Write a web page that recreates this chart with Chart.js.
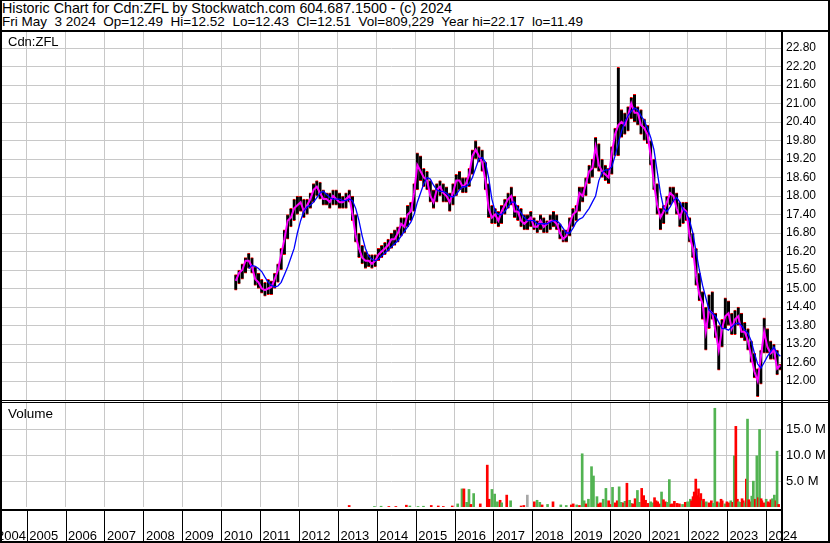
<!DOCTYPE html>
<html>
<head>
<meta charset="utf-8">
<title>Historic Chart for Cdn:ZFL</title>
<script src="https://cdn.jsdelivr.net/npm/chart.js@4.4.0/dist/chart.umd.min.js"></script>
<style>
  body { margin: 0; background: #fff; }
  #page { position: relative; width: 830px; height: 543px; overflow: hidden; font-family: "Liberation Sans", Arial, sans-serif; color: #000; }
  .txt { position: absolute; white-space: pre; line-height: 14px; }
  .ln { position: absolute; background: #000; }
  canvas { position: absolute; left: 0; }
</style>
</head>
<body>
<div id="page">
  <canvas id="priceChart" width="830" height="368" style="top:32px"></canvas>
  <canvas id="volChart" width="830" height="140" style="top:403px"></canvas>

  <div class="txt" style="left:2px;top:1px;font-size:14.3px">Historic Chart for Cdn:ZFL by Stockwatch.com 604.687.1500 - (c) 2024</div>
  <div class="txt" style="left:2px;top:15px;font-size:13.5px">Fri May  3 2024  Op=12.49  Hi=12.52  Lo=12.43  Cl=12.51  Vol=809,229  Year hi=22.17  lo=11.49</div>
  <div class="txt" style="left:8px;top:35px;font-size:13px">Cdn:ZFL</div>
  <div class="txt" style="left:8px;top:407px;font-size:13.5px">Volume</div>

  <!-- frame -->
  <div class="ln" style="left:0;top:0;width:830px;height:1px"></div>
  <div class="ln" style="left:0;top:0;width:2px;height:543px"></div>
  <div class="ln" style="left:828px;top:0;width:2px;height:543px"></div>
  <div class="ln" style="left:0;top:541px;width:830px;height:2px"></div>
  <div class="ln" style="left:0;top:30px;width:830px;height:2px"></div>
  <div class="ln" style="left:781px;top:30px;width:2px;height:513px"></div>
  <div class="ln" style="left:0;top:400px;width:830px;height:1px"></div>
  <div class="ln" style="left:0;top:402px;width:830px;height:1px"></div>
  <div class="ln" style="left:0;top:509px;width:783px;height:2px"></div>
</div>

<script>
// monthly bars, first one is May 2010
const startYear = 2010, startMonth = 5;

const hi = [
  15.45, 15.6, 15.8, 16.0, 16.15, 16.0, 15.7, 15.5,
  15.3, 15.2, 15.3, 15.25, 15.5, 15.8, 16.3, 16.9, 17.4, 17.6, 17.9, 18.0,
  18.0, 17.9, 17.9, 18.1, 18.4, 18.5, 18.45, 18.2, 18.1, 18.1, 18.2, 18.2,
  18.1, 18.0, 18.1, 18.2, 18.0, 17.4, 16.8, 16.4, 16.2, 16.1, 16.1, 16.1,
  16.3, 16.4, 16.5, 16.6, 16.8, 16.9, 17.0, 17.3, 17.3, 17.7, 17.8, 18.4,
  19.4, 19.3, 18.9, 18.8, 18.5, 18.2, 18.4, 18.5, 18.4, 18.3, 18.1, 18.4,
  18.7, 18.8, 18.6, 18.6, 18.9, 19.5, 19.8, 19.6, 19.5, 19.1, 18.4, 17.7,
  17.6, 17.5, 17.7, 17.9, 18.1, 18.3, 18.0, 17.7, 17.6, 17.4, 17.4, 17.5,
  17.3, 17.2, 17.4, 17.3, 17.2, 17.4, 17.5, 17.4, 17.1, 16.9, 16.9, 17.3,
  17.6, 17.7, 18.3, 18.3, 18.6, 19.0, 19.2, 19.9, 19.7, 19.2, 19.0, 18.9,
  19.6, 20.2, 22.17, 20.8, 20.7, 20.9, 21.2, 21.3, 20.9, 20.8, 20.5, 20.3,
  19.8, 19.2, 18.4, 17.6, 17.7, 18.0, 18.3, 18.3, 18.1, 17.8, 17.8, 17.8,
  17.3, 16.8, 16.3, 15.5, 14.9, 14.4, 14.8, 14.9, 14.2, 13.8, 14.0, 14.7,
  14.6, 14.2, 14.3, 14.4, 14.2, 13.9, 13.7, 13.3, 12.9, 12.4, 13.0, 14.05,
  13.7, 13.3, 13.2, 13.0, 12.55
];
const lo = [
  14.95, 15.15, 15.3, 15.5, 15.65, 15.5, 15.1, 15.0,
  14.85, 14.75, 14.8, 14.8, 15.0, 15.2, 15.6, 16.1, 16.6, 17.0, 17.2, 17.4,
  17.5, 17.3, 17.4, 17.6, 17.8, 18.0, 17.9, 17.7, 17.7, 17.6, 17.7, 17.7,
  17.6, 17.6, 17.6, 17.8, 17.2, 16.5, 16.0, 15.8, 15.65, 15.7, 15.65, 15.7,
  15.9, 16.0, 16.1, 16.2, 16.3, 16.4, 16.5, 16.7, 16.8, 17.0, 17.2, 17.5,
  18.2, 18.5, 18.3, 18.2, 17.8, 17.6, 17.8, 18.0, 17.8, 17.8, 17.5, 17.7,
  18.0, 18.2, 18.1, 18.1, 18.3, 18.7, 19.2, 19.1, 18.8, 18.2, 17.3, 17.1,
  17.1, 17.0, 17.1, 17.4, 17.6, 17.7, 17.3, 17.2, 17.0, 16.9, 16.9, 17.0,
  16.9, 16.8, 16.9, 16.8, 16.8, 16.9, 17.0, 16.9, 16.6, 16.5, 16.5, 16.7,
  17.0, 17.2, 17.5, 17.8, 18.0, 18.4, 18.6, 18.9, 18.8, 18.6, 18.5, 18.4,
  18.7, 19.3, 19.3, 19.9, 20.0, 20.1, 20.5, 20.4, 20.3, 20.0, 19.8, 19.7,
  19.0, 18.2, 17.4, 16.9, 17.1, 17.4, 17.7, 17.8, 17.4, 17.0, 17.1, 17.2,
  16.5, 16.0, 15.1, 14.6, 14.0, 13.0, 13.7, 14.0, 13.4, 12.35, 13.1, 13.7,
  13.8, 13.5, 13.5, 13.8, 13.4, 13.3, 13.0, 12.6, 12.1, 11.49, 11.9, 12.9,
  12.9, 12.7, 12.7, 12.2, 12.35
];
const cl = [
  15.25, 15.5, 15.6, 15.9, 15.9, 15.7, 15.3, 15.2,
  15.0, 14.95, 15.0, 15.05, 15.3, 15.6, 16.1, 16.6, 17.2, 17.3, 17.6, 17.7,
  17.8, 17.5, 17.7, 17.9, 18.2, 18.3, 18.1, 17.9, 17.9, 17.8, 18.0, 17.9,
  17.8, 17.8, 17.9, 18.0, 17.4, 16.7, 16.3, 16.0, 15.9, 15.9, 15.8, 15.9,
  16.1, 16.2, 16.3, 16.4, 16.6, 16.6, 16.8, 17.1, 17.0, 17.4, 17.5, 18.1,
  19.0, 18.8, 18.6, 18.5, 18.0, 17.8, 18.2, 18.3, 18.1, 18.0, 17.8, 18.1,
  18.5, 18.5, 18.3, 18.4, 18.7, 19.3, 19.5, 19.3, 19.1, 18.5, 17.6, 17.3,
  17.4, 17.2, 17.5, 17.7, 17.9, 18.0, 17.5, 17.5, 17.2, 17.1, 17.2, 17.3,
  17.0, 17.0, 17.2, 17.0, 17.1, 17.2, 17.2, 17.1, 16.8, 16.6, 16.7, 17.1,
  17.4, 17.5, 18.1, 18.0, 18.4, 18.8, 18.9, 19.6, 19.0, 18.8, 18.7, 18.6,
  19.4, 20.0, 20.3, 20.4, 20.3, 20.6, 21.0, 20.7, 20.7, 20.3, 20.2, 20.0,
  19.3, 18.4, 17.7, 17.3, 17.5, 17.8, 18.1, 18.0, 17.6, 17.3, 17.6, 17.5,
  16.7, 16.3, 15.4, 14.8, 14.5, 13.6, 14.3, 14.2, 13.6, 13.0, 13.7, 14.1,
  14.2, 13.7, 14.0, 14.1, 13.6, 13.6, 13.3, 12.8, 12.3, 12.0, 12.8, 13.6,
  13.1, 12.9, 13.0, 12.4, 12.51
];
// long moving average (blue)
const ma = [
  null, null, null, null, 15.65, 15.75, 15.72, 15.65,
  15.55, 15.37, 15.2, 15.1, 15.05, 15.08, 15.2, 15.45, 15.7, 16.0, 16.3, 16.8,
  17.2, 17.5, 17.65, 17.7, 17.8, 17.95, 18.1, 18.15, 18.05, 17.95, 17.9, 17.9,
  17.9, 17.85, 17.85, 17.9, 17.85, 17.6, 17.2, 16.7, 16.3, 16.05, 15.95, 15.9,
  15.95, 16.05, 16.15, 16.25, 16.35, 16.45, 16.55, 16.7, 16.85, 17.0, 17.15, 17.4,
  17.8, 18.1, 18.4, 18.6, 18.55, 18.35, 18.2, 18.15, 18.15, 18.1, 18.0, 17.97,
  18.05, 18.2, 18.3, 18.3, 18.4, 18.6, 18.9, 19.2, 19.25, 19.1, 18.6, 17.9,
  17.5, 17.4, 17.4, 17.5, 17.65, 17.8, 17.8, 17.6, 17.45, 17.3, 17.2, 17.2,
  17.2, 17.1, 17.1, 17.1, 17.1, 17.15, 17.2, 17.2, 17.1, 16.95, 16.8, 16.8,
  16.95, 17.15, 17.25, 17.3, 17.45, 17.6, 17.8, 18.0, 18.5, 18.75, 18.85, 18.85,
  18.95, 19.3, 19.7, 20.1, 20.4, 20.6, 20.75, 20.85, 20.8, 20.6, 20.45, 20.2,
  19.9, 19.5, 18.8, 18.1, 17.6, 17.5, 17.65, 17.85, 17.95, 17.8, 17.55, 17.45,
  17.2, 16.8, 16.2, 15.6, 15.1, 14.7, 14.3, 14.2, 14.1, 13.9, 13.7, 13.7,
  13.65, 13.75, 13.85, 13.88, 13.8, 13.65, 13.55, 13.3, 12.9, 12.55, 12.42, 12.6,
  12.8, 12.95, 13.1, 12.9, 12.8
];

// volume (millions), 1 = up day, -1 = down day, 0 = unchanged
const volDates = [
  2013.29, 2013.94, 2014.11, 2014.31, 2014.49, 2014.76, 2014.85, 2015.06, 2015.2, 2015.4, 2015.58, 2015.71, 2015.94,
  2016.08, 2016.19, 2016.24, 2016.31, 2016.37, 2016.42, 2016.49, 2016.66, 2016.84, 2016.89, 2016.96,
  2017.03, 2017.1, 2017.17, 2017.21, 2017.34, 2017.44, 2017.71, 2017.78, 2017.87,
  2018.05, 2018.12, 2018.19, 2018.25, 2018.39, 2018.53, 2018.73, 2018.87,
  2019.0, 2019.05, 2019.14, 2019.21, 2019.28, 2019.33, 2019.38, 2019.44, 2019.52, 2019.57, 2019.66, 2019.7, 2019.75, 2019.82, 2019.89, 2019.96,
  2020.0, 2020.06, 2020.13, 2020.18, 2020.23, 2020.28, 2020.34, 2020.38, 2020.43, 2020.5, 2020.54, 2020.58, 2020.64, 2020.7, 2020.75, 2020.81, 2020.86, 2020.91, 2020.97,
  2021.04, 2021.09, 2021.14, 2021.18, 2021.22, 2021.27, 2021.32, 2021.37, 2021.42, 2021.47, 2021.52, 2021.56, 2021.59, 2021.65, 2021.72, 2021.78, 2021.86, 2021.93, 2021.99,
  2022.06, 2022.09, 2022.13, 2022.16, 2022.2, 2022.24, 2022.27, 2022.3, 2022.33, 2022.37, 2022.4, 2022.44, 2022.47, 2022.54, 2022.6, 2022.65, 2022.69, 2022.75, 2022.81, 2022.85, 2022.88, 2022.95,
  2023.0, 2023.05, 2023.1, 2023.15, 2023.19, 2023.23, 2023.27, 2023.3, 2023.35, 2023.39, 2023.42, 2023.46, 2023.5, 2023.53, 2023.56, 2023.6, 2023.64, 2023.68, 2023.73, 2023.77, 2023.81, 2023.84, 2023.88, 2023.9, 2023.96,
  2024.01, 2024.06, 2024.1, 2024.13, 2024.17, 2024.22, 2024.26, 2024.29, 2024.33
];
const volMil = [
  0.3, 0.1, 0.15, 0.1, 0.1, 0.35, 0.2, 0.1, 0.15, 0.3, 0.2, 0.1, 0.2,
  0.6, 3.5, 3.5, 0.9, 3.4, 0.5, 2.6, 0.6, 8.1, 1.5, 3.4,
  2.5, 1.0, 1.3, 0.8, 2.3, 1.2, 0.2, 0.3, 2.3,
  1.0, 1.3, 0.9, 0.4, 0.5, 1.0, 0.4, 0.3,
  0.4, 0.6, 0.4, 0.3, 10.3, 1.2, 0.6, 1.5, 7.8, 6.0, 2.0, 0.6, 0.8, 1.5, 3.6, 1.2,
  0.5, 3.8, 0.8, 1.2, 3.9, 0.9, 0.8, 1.1, 4.6, 1.3, 0.7, 0.6, 1.6, 3.2, 0.9, 3.6, 2.2, 1.3, 0.7,
  1.0, 0.8, 1.8, 1.2, 1.0, 0.6, 2.9, 1.4, 1.0, 0.9, 5.3, 0.5, 0.6, 1.1, 0.7, 0.6, 0.5, 0.9, 1.0,
  1.5, 1.2, 2.0, 2.9, 5.4, 2.2, 3.5, 1.8, 2.6, 1.2, 1.5, 0.8, 1.0, 0.8, 1.2, 0.7, 19.1, 1.0, 0.8, 1.5, 1.2, 0.6,
  1.0, 0.8, 1.2, 0.9, 9.9, 15.6, 1.5, 1.0, 0.9, 1.6, 1.2, 0.8, 5.4, 17.0, 1.4, 1.0, 2.1, 5.0, 1.5, 9.9, 1.8, 15.0, 1.6, 1.2, 0.8,
  1.5, 1.0, 0.8, 1.4, 1.6, 2.3, 1.2, 10.8, 0.5
];
const volDir = [
  -1, 1, 1, -1, -1, -1, 1, 1, 1, -1, -1, -1, -1,
  1, 1, -1, 1, 1, -1, 1, -1, -1, -1, 1,
  1, 1, -1, 1, -1, 1, -1, -1, 0,
  -1, 1, 1, -1, 1, -1, 1, 1,
  -1, -1, 1, -1, 1, 1, -1, 1, 1, 1, 1, -1, -1, 1, 1, -1,
  -1, 1, -1, -1, 1, 1, -1, 1, -1, 1, 1, -1, -1, 1, 1, -1, -1, -1, -1,
  1, 1, -1, -1, -1, -1, 1, -1, -1, 1, 1, -1, -1, -1, -1, -1, 1, -1, 1,
  1, -1, -1, -1, -1, -1, -1, -1, -1, 1, -1, -1, 1, -1, -1, 1, 1, -1, 1, -1, -1, 1,
  -1, -1, 1, -1, 1, -1, -1, 1, 1, -1, -1, 1, -1, 1, -1, -1, 1, 1, -1, 1, -1, 1, -1, -1, -1,
  1, -1, -1, -1, 1, 1, -1, 1, -1
];

const priceTicks = [12.0, 12.6, 13.2, 13.8, 14.4, 15.0, 15.6, 16.2, 16.8, 17.4, 18.0, 18.6, 19.2, 19.8, 20.4, 21.0, 21.6, 22.2, 22.8];
const volTicks = [5, 10, 15];
const yearTicks = [2005, 2006, 2007, 2008, 2009, 2010, 2011, 2012, 2013, 2014, 2015, 2016, 2017, 2018, 2019, 2020, 2021, 2022, 2023, 2024];
const yearLabels = ['2004', '2005', '2006', '2007', '2008', '2009', '2010', '2011', '2012', '2013', '2014', '2015', '2016', '2017', '2018', '2019', '2020', '2021', '2022', '2023', '2024'];

const months = hi.map((_, i) => startYear + (startMonth - 1 + i + 0.5) / 12);

const FONT = "'Liberation Sans', Arial, sans-serif";
Chart.defaults.font.family = FONT;
Chart.defaults.color = '#000';

const xMin = 2004.365, xMax = 2024.391;
const gridColor = '#c8c8c8';

function xAxis() {
    return {
        type: 'linear',
        min: xMin,
        max: xMax,
        offset: false,
        afterBuildTicks: s => { s.ticks = yearTicks.map(v => ({ value: v })); },
        ticks: { display: false },
        grid: { color: gridColor, drawTicks: false, offset: false },
        border: { display: false }
    };
}

new Chart(document.getElementById('priceChart'), {
    type: 'bar',
    data: {
        datasets: [{
            type: 'line',
            data: months.map((t, i) => ({ x: t, y: ma[i] })),
            borderColor: '#0000ff',
            borderWidth: 1.3,
            pointRadius: 0,
            order: 1
        }, {
            type: 'line',
            data: months.map((t, i) => ({ x: t, y: cl[i] })),
            borderColor: '#ff00ff',
            borderWidth: 2,
            pointRadius: 0,
            order: 2
        }, {
            type: 'bar',
            data: months.map((t, i) => ({ x: t, y: [lo[i], hi[i]] })),
            backgroundColor: '#000000',
            borderColor: '#ff0000',
            borderWidth: { top: 1, bottom: 1, left: 0, right: 0 },
            borderSkipped: false,
            barThickness: 3,
            order: 3
        }]
    },
    options: {
        responsive: false,
        animation: false,
        events: [],
        layout: { padding: { left: 2, right: 0, top: 0, bottom: 0 } },
        plugins: { legend: { display: false }, tooltip: { enabled: false } },
        scales: {
            x: xAxis(),
            y: {
                position: 'right',
                min: 11.384,
                max: 23.319,
                afterBuildTicks: s => { s.ticks = priceTicks.map(v => ({ value: v })); },
                afterFit: s => { s.width = 49; s.paddingTop = 0; s.paddingBottom = 0; },
                ticks: { padding: 5, color: '#000', font: { size: 12 }, callback: v => v.toFixed(2) },
                grid: { color: gridColor, drawTicks: false },
                border: { display: false }
            }
        }
    }
});

// year strip under the volume panel
const yearStrip = {
    id: 'yearStrip',
    afterDraw(chart) {
        const { ctx } = chart;
        const x = chart.scales.x;
        const top = chart.chartArea.bottom + 4;
        ctx.save();
        ctx.fillStyle = '#000';
        yearTicks.forEach(v => {
            ctx.fillRect(Math.round(x.getPixelForValue(v)), top, 1, 138 - top);
        });
        ctx.font = '13px ' + FONT;
        ctx.textBaseline = 'alphabetic';
        ctx.textAlign = 'left';
        yearLabels.forEach(lbl => {
            const px = x.getPixelForValue(Number(lbl));
            ctx.fillText(lbl, Math.max(px + 2.5, -3), 136.5);
        });
        ctx.restore();
    }
};

new Chart(document.getElementById('volChart'), {
    type: 'bar',
    data: {
        datasets: [{
            data: volDates.map((t, i) => ({ x: t, y: volMil[i] })),
            backgroundColor: volDir.map(d => d > 0 ? '#52b352' : (d < 0 ? '#ff0000' : '#a8a8a8')),
            borderWidth: 0,
            barThickness: 2
        }]
    },
    options: {
        responsive: false,
        animation: false,
        events: [],
        layout: { padding: { left: 2, right: 0, top: 0, bottom: 36 } },
        plugins: { legend: { display: false }, tooltip: { enabled: false } },
        scales: {
            x: xAxis(),
            y: {
                position: 'right',
                min: 0,
                max: 20.12,
                afterBuildTicks: s => { s.ticks = volTicks.map(v => ({ value: v })); },
                afterFit: s => { s.width = 49; s.paddingTop = 0; s.paddingBottom = 0; },
                ticks: { padding: 5, color: '#000', font: { size: 13 }, callback: v => v.toFixed(1) + ' M' },
                grid: { color: gridColor, drawTicks: false },
                border: { display: false }
            }
        }
    },
    plugins: [yearStrip]
});
</script>
</body>
</html>
